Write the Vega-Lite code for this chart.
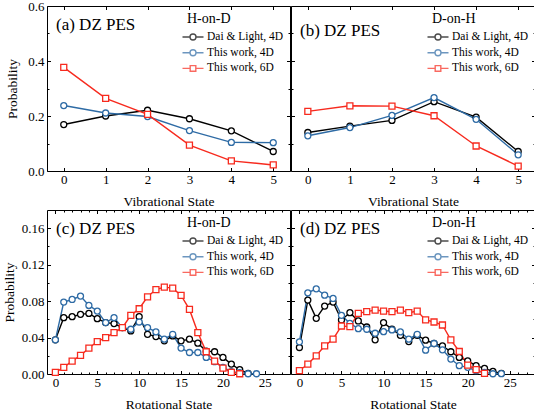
{
  "$schema": "https://vega.github.io/schema/vega-lite/v6.json",
  "padding": {"left": 2, "top": 0, "right": 0, "bottom": 0},
  "datasets": {
    "a": [
      {"n":0,"s":"Dai & Light, 4D","p":0.169},{"n":1,"s":"Dai & Light, 4D","p":0.200},{"n":2,"s":"Dai & Light, 4D","p":0.221},{"n":3,"s":"Dai & Light, 4D","p":0.190},{"n":4,"s":"Dai & Light, 4D","p":0.146},{"n":5,"s":"Dai & Light, 4D","p":0.071},
      {"n":0,"s":"This work, 4D","p":0.238},{"n":1,"s":"This work, 4D","p":0.211},{"n":2,"s":"This work, 4D","p":0.198},{"n":3,"s":"This work, 4D","p":0.147},{"n":4,"s":"This work, 4D","p":0.104},{"n":5,"s":"This work, 4D","p":0.103},
      {"n":0,"s":"This work, 6D","p":0.377},{"n":1,"s":"This work, 6D","p":0.264},{"n":2,"s":"This work, 6D","p":0.206},{"n":3,"s":"This work, 6D","p":0.094},{"n":4,"s":"This work, 6D","p":0.037},{"n":5,"s":"This work, 6D","p":0.022}
    ],
    "b": [
      {"n":0,"s":"Dai & Light, 4D","p":0.140},{"n":1,"s":"Dai & Light, 4D","p":0.163},{"n":2,"s":"Dai & Light, 4D","p":0.184},{"n":3,"s":"Dai & Light, 4D","p":0.252},{"n":4,"s":"Dai & Light, 4D","p":0.196},{"n":5,"s":"Dai & Light, 4D","p":0.071},
      {"n":0,"s":"This work, 4D","p":0.128},{"n":1,"s":"This work, 4D","p":0.158},{"n":2,"s":"This work, 4D","p":0.202},{"n":3,"s":"This work, 4D","p":0.267},{"n":4,"s":"This work, 4D","p":0.188},{"n":5,"s":"This work, 4D","p":0.059},
      {"n":0,"s":"This work, 6D","p":0.217},{"n":1,"s":"This work, 6D","p":0.237},{"n":2,"s":"This work, 6D","p":0.236},{"n":3,"s":"This work, 6D","p":0.201},{"n":4,"s":"This work, 6D","p":0.091},{"n":5,"s":"This work, 6D","p":0.018}
    ],
    "c": [
      {"n":0,"s":"Dai & Light, 4D","p":0.0375},{"n":1,"s":"Dai & Light, 4D","p":0.0618},{"n":2,"s":"Dai & Light, 4D","p":0.0629},{"n":3,"s":"Dai & Light, 4D","p":0.0655},{"n":4,"s":"Dai & Light, 4D","p":0.0665},{"n":5,"s":"Dai & Light, 4D","p":0.0607},{"n":6,"s":"Dai & Light, 4D","p":0.0564},{"n":7,"s":"Dai & Light, 4D","p":0.0553},{"n":8,"s":"Dai & Light, 4D","p":0.0509},{"n":9,"s":"Dai & Light, 4D","p":0.0473},{"n":10,"s":"Dai & Light, 4D","p":0.0629},{"n":11,"s":"Dai & Light, 4D","p":0.0436},{"n":12,"s":"Dai & Light, 4D","p":0.0411},{"n":13,"s":"Dai & Light, 4D","p":0.0364},{"n":14,"s":"Dai & Light, 4D","p":0.0418},{"n":15,"s":"Dai & Light, 4D","p":0.0364},{"n":16,"s":"Dai & Light, 4D","p":0.0382},{"n":17,"s":"Dai & Light, 4D","p":0.0338},{"n":18,"s":"Dai & Light, 4D","p":0.0251},{"n":19,"s":"Dai & Light, 4D","p":0.0244},{"n":20,"s":"Dai & Light, 4D","p":0.0182},{"n":21,"s":"Dai & Light, 4D","p":0.0109},{"n":22,"s":"Dai & Light, 4D","p":0.0047},{"n":23,"s":"Dai & Light, 4D","p":0.0007},
      {"n":0,"s":"This work, 4D","p":0.0375},{"n":1,"s":"This work, 4D","p":0.0789},{"n":2,"s":"This work, 4D","p":0.0818},{"n":3,"s":"This work, 4D","p":0.0855},{"n":4,"s":"This work, 4D","p":0.0753},{"n":5,"s":"This work, 4D","p":0.0691},{"n":6,"s":"This work, 4D","p":0.0564},{"n":7,"s":"This work, 4D","p":0.0618},{"n":8,"s":"This work, 4D","p":0.0509},{"n":9,"s":"This work, 4D","p":0.0491},{"n":10,"s":"This work, 4D","p":0.0571},{"n":11,"s":"This work, 4D","p":0.0509},{"n":12,"s":"This work, 4D","p":0.0462},{"n":13,"s":"This work, 4D","p":0.0382},{"n":14,"s":"This work, 4D","p":0.0436},{"n":15,"s":"This work, 4D","p":0.0284},{"n":16,"s":"This work, 4D","p":0.0236},{"n":17,"s":"This work, 4D","p":0.0236},{"n":18,"s":"This work, 4D","p":0.0182},{"n":19,"s":"This work, 4D","p":0.0135},{"n":20,"s":"This work, 4D","p":0.0073},{"n":21,"s":"This work, 4D","p":0.0025},{"n":22,"s":"This work, 4D","p":0.0015},{"n":23,"s":"This work, 4D","p":0.0003},{"n":24,"s":"This work, 4D","p":0.0003},
      {"n":0,"s":"This work, 6D","p":0.0018},{"n":1,"s":"This work, 6D","p":0.0073},{"n":2,"s":"This work, 6D","p":0.0142},{"n":3,"s":"This work, 6D","p":0.0204},{"n":4,"s":"This work, 6D","p":0.0284},{"n":5,"s":"This work, 6D","p":0.0356},{"n":6,"s":"This work, 6D","p":0.0400},{"n":7,"s":"This work, 6D","p":0.0455},{"n":8,"s":"This work, 6D","p":0.0509},{"n":9,"s":"This work, 6D","p":0.0644},{"n":10,"s":"This work, 6D","p":0.0716},{"n":11,"s":"This work, 6D","p":0.0847},{"n":12,"s":"This work, 6D","p":0.0927},{"n":13,"s":"This work, 6D","p":0.0953},{"n":14,"s":"This work, 6D","p":0.0942},{"n":15,"s":"This work, 6D","p":0.0862},{"n":16,"s":"This work, 6D","p":0.0709},{"n":17,"s":"This work, 6D","p":0.0455},{"n":18,"s":"This work, 6D","p":0.0244},{"n":19,"s":"This work, 6D","p":0.0142},{"n":20,"s":"This work, 6D","p":0.0065},{"n":21,"s":"This work, 6D","p":0.0018},{"n":22,"s":"This work, 6D","p":0.0003}
    ],
    "d": [
      {"n":0,"s":"Dai & Light, 4D","p":0.0291},{"n":1,"s":"Dai & Light, 4D","p":0.0811},{"n":2,"s":"Dai & Light, 4D","p":0.0611},{"n":3,"s":"Dai & Light, 4D","p":0.0745},{"n":4,"s":"Dai & Light, 4D","p":0.0789},{"n":5,"s":"Dai & Light, 4D","p":0.0593},{"n":6,"s":"Dai & Light, 4D","p":0.0673},{"n":7,"s":"Dai & Light, 4D","p":0.0582},{"n":8,"s":"Dai & Light, 4D","p":0.0516},{"n":9,"s":"Dai & Light, 4D","p":0.0375},{"n":10,"s":"Dai & Light, 4D","p":0.0564},{"n":11,"s":"Dai & Light, 4D","p":0.0491},{"n":12,"s":"Dai & Light, 4D","p":0.0425},{"n":13,"s":"Dai & Light, 4D","p":0.0356},{"n":14,"s":"Dai & Light, 4D","p":0.0425},{"n":15,"s":"Dai & Light, 4D","p":0.0371},{"n":16,"s":"Dai & Light, 4D","p":0.0335},{"n":17,"s":"Dai & Light, 4D","p":0.0309},{"n":18,"s":"Dai & Light, 4D","p":0.0244},{"n":19,"s":"Dai & Light, 4D","p":0.0182},{"n":20,"s":"Dai & Light, 4D","p":0.0145},{"n":21,"s":"Dai & Light, 4D","p":0.0091},{"n":22,"s":"Dai & Light, 4D","p":0.0062},{"n":23,"s":"Dai & Light, 4D","p":0.0029},{"n":24,"s":"Dai & Light, 4D","p":0.0007},
      {"n":0,"s":"This work, 4D","p":0.0353},{"n":1,"s":"This work, 4D","p":0.0891},{"n":2,"s":"This work, 4D","p":0.0935},{"n":3,"s":"This work, 4D","p":0.0865},{"n":4,"s":"This work, 4D","p":0.0829},{"n":5,"s":"This work, 4D","p":0.0644},{"n":6,"s":"This work, 4D","p":0.0556},{"n":7,"s":"This work, 4D","p":0.0498},{"n":8,"s":"This work, 4D","p":0.0491},{"n":9,"s":"This work, 4D","p":0.0447},{"n":10,"s":"This work, 4D","p":0.0465},{"n":11,"s":"This work, 4D","p":0.0484},{"n":12,"s":"This work, 4D","p":0.0462},{"n":13,"s":"This work, 4D","p":0.0382},{"n":14,"s":"This work, 4D","p":0.0436},{"n":15,"s":"This work, 4D","p":0.0262},{"n":16,"s":"This work, 4D","p":0.0335},{"n":17,"s":"This work, 4D","p":0.0265},{"n":18,"s":"This work, 4D","p":0.0164},{"n":19,"s":"This work, 4D","p":0.0091},{"n":20,"s":"This work, 4D","p":0.0073},{"n":21,"s":"This work, 4D","p":0.0036},{"n":22,"s":"This work, 4D","p":0.0018},{"n":23,"s":"This work, 4D","p":0.0003},{"n":24,"s":"This work, 4D","p":0.0004},
      {"n":0,"s":"This work, 6D","p":0.0036},{"n":1,"s":"This work, 6D","p":0.0109},{"n":2,"s":"This work, 6D","p":0.0200},{"n":3,"s":"This work, 6D","p":0.0309},{"n":4,"s":"This work, 6D","p":0.0382},{"n":5,"s":"This work, 6D","p":0.0527},{"n":6,"s":"This work, 6D","p":0.0520},{"n":7,"s":"This work, 6D","p":0.0665},{"n":8,"s":"This work, 6D","p":0.0684},{"n":9,"s":"This work, 6D","p":0.0702},{"n":10,"s":"This work, 6D","p":0.0691},{"n":11,"s":"This work, 6D","p":0.0684},{"n":12,"s":"This work, 6D","p":0.0702},{"n":13,"s":"This work, 6D","p":0.0673},{"n":14,"s":"This work, 6D","p":0.0691},{"n":15,"s":"This work, 6D","p":0.0593},{"n":16,"s":"This work, 6D","p":0.0571},{"n":17,"s":"This work, 6D","p":0.0538},{"n":18,"s":"This work, 6D","p":0.0375},{"n":19,"s":"This work, 6D","p":0.0247},{"n":20,"s":"This work, 6D","p":0.0098},{"n":21,"s":"This work, 6D","p":0.0047},{"n":22,"s":"This work, 6D","p":0.0007}
    ]
  },
  "vconcat": [
    {
      "hconcat": [
        {
          "width": 243, "height": 165,
          "data": {"name": "a"},
          "title": {"text": "(a) DZ PES", "anchor": "start", "frame": "group", "orient": "top", "offset": -24, "baseline": "alphabetic", "dx": 9, "dy": 23},
          "layer": [
            {
              "mark": {"type": "line", "strokeWidth": 1.4},
              "encoding": {
                "x": {"field": "n", "type": "quantitative", "scale": {"domain": [-0.4, 5.4], "nice": false, "zero": false}, "axis": {"orient": "bottom", "values": [0,1,2,3,4,5], "title": "Vibrational State"}},
                "y": {"field": "p", "type": "quantitative", "scale": {"domain": [0, 0.6], "nice": false}, "axis": {"orient": "left", "values": [0,0.2,0.4,0.6], "format": ".1f", "title": "Probability", "titlePadding": 8}},
                "color": {"field": "s", "type": "nominal", "scale": {"domain": ["Dai & Light, 4D","This work, 4D","This work, 6D"], "range": ["#000000","#2e6ba5","#f72a1e"]}, "legend": null}
              }
            },
            {
              "mark": {"type": "point", "filled": false, "fill": "white", "fillOpacity": 1, "size": 36, "strokeWidth": 1.3},
              "encoding": {
                "x": {"field": "n", "type": "quantitative", "axis": {"orient": "top", "values": [0,1,2,3,4,5], "labels": false, "title": null}},
                "y": {"field": "p", "type": "quantitative", "axis": {"orient": "right", "values": [0,0.2,0.4,0.6], "labels": false, "title": null}},
                "color": {"field": "s", "type": "nominal", "scale": {"domain": ["Dai & Light, 4D","This work, 4D","This work, 6D"], "range": ["#000000","#2e6ba5","#f72a1e"]}, "legend": null},
                "shape": {"field": "s", "type": "nominal", "scale": {"domain": ["Dai & Light, 4D","This work, 4D","This work, 6D"], "range": ["circle","circle","square"]}, "legend": null}
              }
            },
            {
              "mark": {"type": "point", "filled": false, "size": 0, "strokeWidth": 1.4},
              "encoding": {
                "x": {"field": "n", "type": "quantitative", "axis": null},
                "y": {"field": "p", "type": "quantitative", "axis": {"orient": "left", "values": [0.1,0.3,0.5], "labels": false, "title": null, "domain": false, "tickSize": -2}},
                "color": {"field": "s", "type": "nominal", "scale": {"domain": ["Dai & Light, 4D","This work, 4D","This work, 6D"], "range": ["#000000","#2e6ba5","#f72a1e"]}, "legend": {"title": "H-on-D", "symbolSize": 100}},
                "shape": {"field": "s", "type": "nominal", "scale": {"domain": ["Dai & Light, 4D","This work, 4D","This work, 6D"], "range": ["M-2.1,0L-0.6,0M0.6,0L2.1,0M-0.6,0A0.6,0.6 0 1,0 0.6,0A0.6,0.6 0 1,0 -0.6,0Z","M-2.1,0L-0.6,0M0.6,0L2.1,0M-0.6,0A0.6,0.6 0 1,0 0.6,0A0.6,0.6 0 1,0 -0.6,0Z","M-2.1,0L-0.56,0M0.56,0L2.1,0M-0.56,-0.56L0.56,-0.56L0.56,0.56L-0.56,0.56Z"]}, "legend": {"title": "H-on-D", "symbolSize": 100}}
              }
            },
            {
              "mark": {"type": "point", "filled": false, "size": 0},
              "encoding": {
                "x": {"field": "n", "type": "quantitative", "axis": null},
                "y": {"field": "p", "type": "quantitative", "axis": {"orient": "right", "values": [0.1,0.3,0.5], "labels": false, "title": null, "domain": false, "tickSize": -2}}
              }
            }
          ],
          "resolve": {"axis": {"x": "independent", "y": "independent"}, "scale": {"color": "independent", "shape": "independent"}, "legend": {"color": "independent", "shape": "independent"}}
        },
        {
          "width": 244, "height": 165,
          "data": {"name": "b"},
          "title": {"text": "(b) DZ PES", "anchor": "start", "frame": "group", "orient": "top", "offset": -24, "baseline": "alphabetic", "dx": 9, "dy": 23},
          "layer": [
            {
              "mark": {"type": "line", "strokeWidth": 1.4},
              "encoding": {
                "x": {"field": "n", "type": "quantitative", "scale": {"domain": [-0.4, 5.4], "nice": false, "zero": false}, "axis": {"orient": "bottom", "values": [0,1,2,3,4,5], "title": "Vibrational State"}},
                "y": {"field": "p", "type": "quantitative", "scale": {"domain": [0, 0.6], "nice": false}, "axis": {"orient": "left", "values": [0,0.2,0.4,0.6], "labels": false, "title": null}},
                "color": {"field": "s", "type": "nominal", "scale": {"domain": ["Dai & Light, 4D","This work, 4D","This work, 6D"], "range": ["#000000","#2e6ba5","#f72a1e"]}, "legend": null}
              }
            },
            {
              "mark": {"type": "point", "filled": false, "fill": "white", "fillOpacity": 1, "size": 36, "strokeWidth": 1.3},
              "encoding": {
                "x": {"field": "n", "type": "quantitative", "axis": {"orient": "top", "values": [0,1,2,3,4,5], "labels": false, "title": null}},
                "y": {"field": "p", "type": "quantitative", "axis": {"orient": "right", "values": [0,0.2,0.4,0.6], "labels": false, "title": null}},
                "color": {"field": "s", "type": "nominal", "scale": {"domain": ["Dai & Light, 4D","This work, 4D","This work, 6D"], "range": ["#000000","#2e6ba5","#f72a1e"]}, "legend": null},
                "shape": {"field": "s", "type": "nominal", "scale": {"domain": ["Dai & Light, 4D","This work, 4D","This work, 6D"], "range": ["circle","circle","square"]}, "legend": null}
              }
            },
            {
              "mark": {"type": "point", "filled": false, "size": 0, "strokeWidth": 1.4},
              "encoding": {
                "x": {"field": "n", "type": "quantitative", "axis": null},
                "y": {"field": "p", "type": "quantitative", "axis": {"orient": "left", "values": [0.1,0.3,0.5], "labels": false, "title": null, "domain": false, "tickSize": -2}},
                "color": {"field": "s", "type": "nominal", "scale": {"domain": ["Dai & Light, 4D","This work, 4D","This work, 6D"], "range": ["#000000","#2e6ba5","#f72a1e"]}, "legend": {"title": "D-on-H", "symbolSize": 100}},
                "shape": {"field": "s", "type": "nominal", "scale": {"domain": ["Dai & Light, 4D","This work, 4D","This work, 6D"], "range": ["M-2.1,0L-0.6,0M0.6,0L2.1,0M-0.6,0A0.6,0.6 0 1,0 0.6,0A0.6,0.6 0 1,0 -0.6,0Z","M-2.1,0L-0.6,0M0.6,0L2.1,0M-0.6,0A0.6,0.6 0 1,0 0.6,0A0.6,0.6 0 1,0 -0.6,0Z","M-2.1,0L-0.56,0M0.56,0L2.1,0M-0.56,-0.56L0.56,-0.56L0.56,0.56L-0.56,0.56Z"]}, "legend": {"title": "D-on-H", "symbolSize": 100}}
              }
            },
            {
              "mark": {"type": "point", "filled": false, "size": 0},
              "encoding": {
                "x": {"field": "n", "type": "quantitative", "axis": null},
                "y": {"field": "p", "type": "quantitative", "axis": {"orient": "right", "values": [0.1,0.3,0.5], "labels": false, "title": null, "domain": false, "tickSize": -2}}
              }
            }
          ],
          "resolve": {"axis": {"x": "independent", "y": "independent"}, "scale": {"color": "independent", "shape": "independent"}, "legend": {"color": "independent", "shape": "independent"}}
        }
      ],
      "spacing": -1,
      "resolve": {"scale": {"color": "independent", "shape": "independent"}, "legend": {"color": "independent", "shape": "independent"}}
    },
    {
      "hconcat": [
        {
          "width": 243, "height": 164,
          "data": {"name": "c"},
          "title": {"text": "(c) DZ PES", "anchor": "start", "frame": "group", "orient": "top", "offset": -22, "baseline": "alphabetic", "dx": 9, "dy": 19},
          "layer": [
            {
              "mark": {"type": "line", "strokeWidth": 1.4},
              "encoding": {
                "x": {"field": "n", "type": "quantitative", "scale": {"domain": [-1, 28], "nice": false, "zero": false}, "axis": {"orient": "bottom", "values": [0,5,10,15,20,25], "title": "Rotational State"}},
                "y": {"field": "p", "type": "quantitative", "scale": {"domain": [0, 0.18], "nice": false}, "axis": {"orient": "left", "values": [0,0.04,0.08,0.12,0.16], "format": ".2f", "title": "Probability", "titlePadding": 5}},
                "color": {"field": "s", "type": "nominal", "scale": {"domain": ["Dai & Light, 4D","This work, 4D","This work, 6D"], "range": ["#000000","#2e6ba5","#f72a1e"]}, "legend": null}
              }
            },
            {
              "mark": {"type": "point", "filled": false, "fill": "white", "fillOpacity": 1, "size": 36, "strokeWidth": 1.3},
              "encoding": {
                "x": {"field": "n", "type": "quantitative", "axis": {"orient": "top", "values": [0,5,10,15,20,25], "labels": false, "title": null}},
                "y": {"field": "p", "type": "quantitative", "axis": {"orient": "right", "values": [0,0.04,0.08,0.12,0.16], "labels": false, "title": null}},
                "color": {"field": "s", "type": "nominal", "scale": {"domain": ["Dai & Light, 4D","This work, 4D","This work, 6D"], "range": ["#000000","#2e6ba5","#f72a1e"]}, "legend": null},
                "shape": {"field": "s", "type": "nominal", "scale": {"domain": ["Dai & Light, 4D","This work, 4D","This work, 6D"], "range": ["circle","circle","square"]}, "legend": null}
              }
            },
            {
              "mark": {"type": "point", "filled": false, "size": 0, "strokeWidth": 1.4},
              "encoding": {
                "x": {"field": "n", "type": "quantitative", "axis": {"orient": "bottom", "values": [1,2,3,4,6,7,8,9,11,12,13,14,16,17,18,19,21,22,23,24,26,27], "labels": false, "title": null, "domain": false, "tickSize": -2}},
                "y": {"field": "p", "type": "quantitative", "axis": {"orient": "left", "values": [0.02,0.06,0.1,0.14], "labels": false, "title": null, "domain": false, "tickSize": -2}},
                "color": {"field": "s", "type": "nominal", "scale": {"domain": ["Dai & Light, 4D","This work, 4D","This work, 6D"], "range": ["#000000","#2e6ba5","#f72a1e"]}, "legend": {"title": "H-on-D", "symbolSize": 100}},
                "shape": {"field": "s", "type": "nominal", "scale": {"domain": ["Dai & Light, 4D","This work, 4D","This work, 6D"], "range": ["M-2.1,0L-0.6,0M0.6,0L2.1,0M-0.6,0A0.6,0.6 0 1,0 0.6,0A0.6,0.6 0 1,0 -0.6,0Z","M-2.1,0L-0.6,0M0.6,0L2.1,0M-0.6,0A0.6,0.6 0 1,0 0.6,0A0.6,0.6 0 1,0 -0.6,0Z","M-2.1,0L-0.56,0M0.56,0L2.1,0M-0.56,-0.56L0.56,-0.56L0.56,0.56L-0.56,0.56Z"]}, "legend": {"title": "H-on-D", "symbolSize": 100}}
              }
            },
            {
              "mark": {"type": "point", "filled": false, "size": 0},
              "encoding": {
                "x": {"field": "n", "type": "quantitative", "axis": {"orient": "top", "values": [1,2,3,4,6,7,8,9,11,12,13,14,16,17,18,19,21,22,23,24,26,27], "labels": false, "title": null, "domain": false, "tickSize": -2}},
                "y": {"field": "p", "type": "quantitative", "axis": {"orient": "right", "values": [0.02,0.06,0.1,0.14], "labels": false, "title": null, "domain": false, "tickSize": -2}}
              }
            }
          ],
          "resolve": {"axis": {"x": "independent", "y": "independent"}, "scale": {"color": "independent", "shape": "independent"}, "legend": {"color": "independent", "shape": "independent"}}
        },
        {
          "width": 244, "height": 164,
          "data": {"name": "d"},
          "title": {"text": "(d) DZ PES", "anchor": "start", "frame": "group", "orient": "top", "offset": -22, "baseline": "alphabetic", "dx": 9, "dy": 19},
          "layer": [
            {
              "mark": {"type": "line", "strokeWidth": 1.4},
              "encoding": {
                "x": {"field": "n", "type": "quantitative", "scale": {"domain": [-1, 28], "nice": false, "zero": false}, "axis": {"orient": "bottom", "values": [0,5,10,15,20,25], "title": "Rotational State"}},
                "y": {"field": "p", "type": "quantitative", "scale": {"domain": [0, 0.18], "nice": false}, "axis": {"orient": "left", "values": [0,0.04,0.08,0.12,0.16], "labels": false, "title": null}},
                "color": {"field": "s", "type": "nominal", "scale": {"domain": ["Dai & Light, 4D","This work, 4D","This work, 6D"], "range": ["#000000","#2e6ba5","#f72a1e"]}, "legend": null}
              }
            },
            {
              "mark": {"type": "point", "filled": false, "fill": "white", "fillOpacity": 1, "size": 36, "strokeWidth": 1.3},
              "encoding": {
                "x": {"field": "n", "type": "quantitative", "axis": {"orient": "top", "values": [0,5,10,15,20,25], "labels": false, "title": null}},
                "y": {"field": "p", "type": "quantitative", "axis": {"orient": "right", "values": [0,0.04,0.08,0.12,0.16], "labels": false, "title": null}},
                "color": {"field": "s", "type": "nominal", "scale": {"domain": ["Dai & Light, 4D","This work, 4D","This work, 6D"], "range": ["#000000","#2e6ba5","#f72a1e"]}, "legend": null},
                "shape": {"field": "s", "type": "nominal", "scale": {"domain": ["Dai & Light, 4D","This work, 4D","This work, 6D"], "range": ["circle","circle","square"]}, "legend": null}
              }
            },
            {
              "mark": {"type": "point", "filled": false, "size": 0, "strokeWidth": 1.4},
              "encoding": {
                "x": {"field": "n", "type": "quantitative", "axis": {"orient": "bottom", "values": [1,2,3,4,6,7,8,9,11,12,13,14,16,17,18,19,21,22,23,24,26,27], "labels": false, "title": null, "domain": false, "tickSize": -2}},
                "y": {"field": "p", "type": "quantitative", "axis": {"orient": "left", "values": [0.02,0.06,0.1,0.14], "labels": false, "title": null, "domain": false, "tickSize": -2}},
                "color": {"field": "s", "type": "nominal", "scale": {"domain": ["Dai & Light, 4D","This work, 4D","This work, 6D"], "range": ["#000000","#2e6ba5","#f72a1e"]}, "legend": {"title": "D-on-H", "symbolSize": 100}},
                "shape": {"field": "s", "type": "nominal", "scale": {"domain": ["Dai & Light, 4D","This work, 4D","This work, 6D"], "range": ["M-2.1,0L-0.6,0M0.6,0L2.1,0M-0.6,0A0.6,0.6 0 1,0 0.6,0A0.6,0.6 0 1,0 -0.6,0Z","M-2.1,0L-0.6,0M0.6,0L2.1,0M-0.6,0A0.6,0.6 0 1,0 0.6,0A0.6,0.6 0 1,0 -0.6,0Z","M-2.1,0L-0.56,0M0.56,0L2.1,0M-0.56,-0.56L0.56,-0.56L0.56,0.56L-0.56,0.56Z"]}, "legend": {"title": "D-on-H", "symbolSize": 100}}
              }
            },
            {
              "mark": {"type": "point", "filled": false, "size": 0},
              "encoding": {
                "x": {"field": "n", "type": "quantitative", "axis": {"orient": "top", "values": [1,2,3,4,6,7,8,9,11,12,13,14,16,17,18,19,21,22,23,24,26,27], "labels": false, "title": null, "domain": false, "tickSize": -2}},
                "y": {"field": "p", "type": "quantitative", "axis": {"orient": "right", "values": [0.02,0.06,0.1,0.14], "labels": false, "title": null, "domain": false, "tickSize": -2}}
              }
            }
          ],
          "resolve": {"axis": {"x": "independent", "y": "independent"}, "scale": {"color": "independent", "shape": "independent"}, "legend": {"color": "independent", "shape": "independent"}}
        }
      ],
      "spacing": -1,
      "resolve": {"scale": {"color": "independent", "shape": "independent"}, "legend": {"color": "independent", "shape": "independent"}}
    }
  ],
  "spacing": 1,
  "resolve": {"scale": {"color": "independent", "shape": "independent"}, "legend": {"color": "independent", "shape": "independent"}},
  "config": {
    "font": "Liberation Serif",
    "view": {"stroke": null},
    "axis": {"grid": false, "domainColor": "#000000", "domainWidth": 1, "tickColor": "#000000", "tickWidth": 1, "tickSize": -3.5, "labelColor": "#000000", "titleColor": "#000000", "labelFont": "Liberation Serif", "titleFont": "Liberation Serif", "labelFontSize": 13, "titleFontSize": 13.5, "titleFontWeight": "normal", "labelPadding": 6.5, "titlePadding": 5},
    "axisX": {"labelPadding": 5.5, "titlePadding": 8},
    "legend": {"orient": "top-right", "offset": 6, "padding": 0, "titleFont": "Liberation Serif", "titleFontSize": 14, "titleFontWeight": "normal", "titleColor": "#000000", "titlePadding": 5, "labelFont": "Liberation Serif", "labelFontSize": 11.5, "labelColor": "#000000", "labelOffset": 8, "rowPadding": 3.7, "symbolSize": 100, "symbolStrokeWidth": 1.4},
    "title": {"font": "Liberation Serif", "fontSize": 17, "fontWeight": "normal", "color": "#000000"}
  }
}
